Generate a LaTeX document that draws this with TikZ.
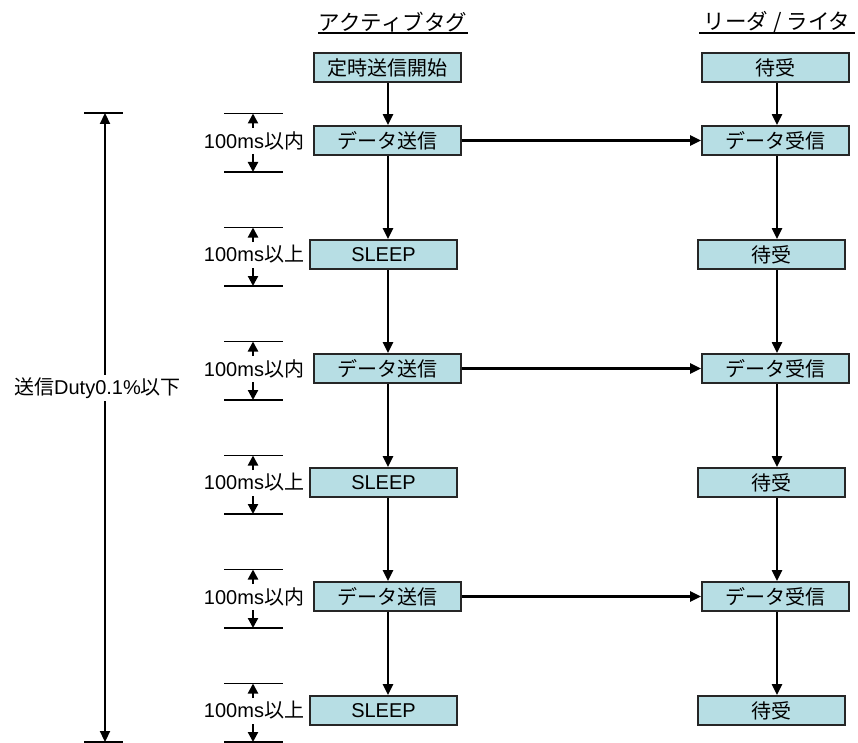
\documentclass[tikz,border=0pt]{standalone}
\usepackage{fontspec}
\setmainfont{Liberation Sans}
\newfontfamily\jp{Noto Sans CJK JP}
\usetikzlibrary{arrows.meta}
\definecolor{boxc}{RGB}{183,222,228}
\begin{document}
\begin{tikzpicture}[x=1pt,y=-1pt,
  every node/.style={font=\fontsize{20}{24}\selectfont},
  box/.style={draw=black!85,fill=boxc,line width=1.8pt,minimum width=147pt,minimum height=29pt,inner sep=0pt},
  arr/.style={line width=2.2pt,-{Triangle[length=11pt,width=10pt]}},
  dimarr/.style={line width=2.2pt,-{Triangle[length=10pt,width=10pt]}},
  tick/.style={line width=1.8pt},
  lab/.style={inner sep=0pt},
  title/.style={inner sep=0pt,font=\fontsize{21.5}{24}\selectfont}]
\useasboundingbox (0,0) rectangle (858,743);

% titles
\node[title] (tA) at (393,22) {\jp アクティブタグ};
\node[title] (tB) at (777,22) {\jp リーダ\hspace{5pt}/\hspace{5pt}ライタ};
\coordinate (uA1) at (318,33); \coordinate (uA2) at (468,33);
\coordinate (uB1) at (699,33); \coordinate (uB2) at (855,33);
\draw[line width=1.4pt] (uA1) -- (uA2);
\draw[line width=1.4pt] (uB1) -- (uB2);

% column axes
\coordinate (xl) at (388,0);
\coordinate (xr) at (777,0);

% top boxes
\node[box] (s0) at (387.5,67.5) {\jp 定時送信開始};
\node[box] (w0) at (775.5,67.5) {\jp 待受};

\foreach \k/\c/\d in {1/140.5/254.5, 2/368.5/482.5, 3/596.5/710.5} {
  \node[box] (d\k) at (387.5,\c) {\jp データ送信};
  \node[box] (q\k) at (775.5,\c) {\jp データ受信};
  \node[box] (p\k) at (383.5,\d) {SLEEP};
  \node[box] (w\k) at (771.5,\d) {\jp 待受};
  \draw[arr] (d\k) -- (q\k);
  \draw[arr] (d\k.south -| xl) -- (p\k.north -| xl);
  \draw[arr] (q\k.south -| xr) -- (w\k.north -| xr);
}
\foreach \a/\b in {s0/d1, p1/d2, p2/d3} {
  \draw[arr] (\a.south -| xl) -- (\b.north -| xl);
}
\foreach \a/\b in {w0/q1, w1/q2, w2/q3} {
  \draw[arr] (\a.south -| xr) -- (\b.north -| xr);
}

% dimension markers
\foreach \c/\t [count=\i] in {140.5/以内,254.5/以上,368.5/以内,482.5/以上,596.5/以内,710.5/以上} {
  \node[lab] (m\i) at (254,\c) {100ms{\jp \t}};
  \coordinate (mt\i) at (253,\c-27);
  \coordinate (mb\i) at (253,\c+31.5);
  \coordinate (ma\i) at (253,\c-12.5);
  \coordinate (mc\i) at (253,\c+13.5);
  \draw[tick] (224,\c-27) -- (283,\c-27);
  \draw[tick] (224,\c+31.5) -- (283,\c+31.5);
  \draw[dimarr] (ma\i) -- (mt\i);
  \draw[dimarr] (mc\i) -- (mb\i);
}

% overall duty arrow
\coordinate (bt) at (105,113);
\coordinate (bb) at (105,742);
\draw[tick] (84,113) -- (123,113);
\draw[tick] (84,742) -- (123,742);
\draw[line width=2.2pt,{Triangle[length=11pt,width=10pt]}-{Triangle[length=11pt,width=10pt]}] (bt) -- (bb);
\node[fill=white,inner xsep=0pt,inner ysep=3pt] (duty) at (97.5,388) {{\jp 送信}Duty0.1\%{\jp 以下}};
\end{tikzpicture}
\end{document}
